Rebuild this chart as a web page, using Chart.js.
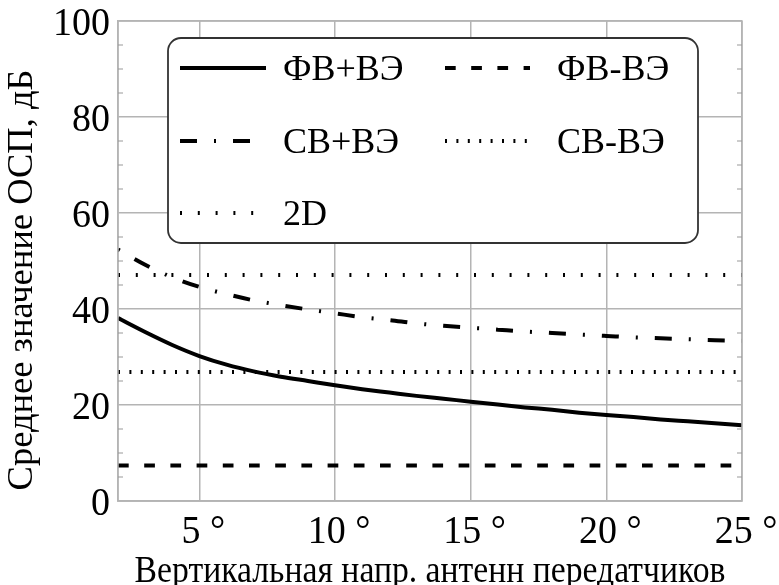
<!DOCTYPE html>
<html><head><meta charset="utf-8">
<script src="https://cdn.jsdelivr.net/npm/chart.js@4/dist/chart.umd.min.js"></script>
<style>html,body{margin:0;padding:0;background:#fff}#wrap{width:779px;height:585px}</style>
</head><body><div id="wrap"><canvas id="c" width="779" height="585"></canvas></div>
<script>
// ---- data ----
const angles      = [2,3,4,5,6,7,8,9,10,11,12,13,14,15,16,17,18,19,20,21,22,23,24,25];
const fvPlusVe    = [38.1,35.2,32.5,30.2,28.4,27.0,25.9,25.0,24.1,23.3,22.6,21.9,21.3,20.7,20.1,19.5,19.0,18.4,17.9,17.5,17.0,16.6,16.2,15.8];
const svPlusVe    = [52.4,49.2,46.6,44.6,43.1,41.8,40.8,39.9,39.1,38.3,37.7,37.0,36.5,36.1,35.7,35.3,35.0,34.7,34.4,34.1,33.9,33.7,33.5,33.4];
const fvMinusVe   = [7.4, 7.4];
const svMinusVe   = [26.9, 26.9];
const twoD        = [47.1, 47.1];
const constX      = [2, 25];
const xTickValues = [5,10,15,20,25];
const yTickValues = [0,20,40,60,80,100];
const seriesNames = ['ФВ+ВЭ','ФВ-ВЭ','СВ+ВЭ','СВ-ВЭ','2D'];
const xTitle = 'Вертикальная напр. антенн передатчиков';
const yTitle = 'Среднее значение ОСП, дБ';

const FONT = '"Liberation Serif", serif';
const GRID = '#b4b4b4';

const pts = (xs, ys) => xs.map((x,i)=>({x:x, y:ys[i]}));

const datasets = [
  {label:seriesNames[0], data:pts(angles,fvPlusVe), borderColor:'#000', borderWidth:4, borderDash:[], cubicInterpolationMode:'monotone'},
  {label:seriesNames[1], data:pts(constX,fvMinusVe), borderColor:'#000', borderWidth:4, borderDash:[10.7,15.5]},
  {label:seriesNames[2], data:pts(angles,svPlusVe), borderColor:'#000', borderWidth:4, borderDash:[17,17,2,17], borderDashOffset:34, cubicInterpolationMode:'monotone'},
  {label:seriesNames[3], data:pts(constX,svMinusVe), borderColor:'#000', borderWidth:4, borderDash:[2,9.4]},
  {label:seriesNames[4], data:pts(constX,twoD), borderColor:'#000', borderWidth:4, borderDash:[2,15.8]}
].map(d=>Object.assign({pointRadius:0, fill:false, borderCapStyle:'butt'}, d));

function txt(ctx, s, x, y, size, align, sy, rot){
  ctx.save();
  ctx.translate(x, y);
  if (rot) ctx.rotate(rot);
  ctx.scale(1, sy);
  ctx.font = size + 'px ' + FONT;
  ctx.fillStyle = '#000';
  ctx.textAlign = align;
  ctx.textBaseline = 'alphabetic';
  ctx.fillText(s, 0, 0);
  ctx.restore();
}

const decor = {
  id:'decor',
  afterDraw(chart){
    const {ctx, chartArea:a, scales:{x, y}} = chart;
    ctx.save();
    // frame
    ctx.strokeStyle = GRID; ctx.lineWidth = 1.5;
    ctx.strokeRect(a.left, a.top, a.right-a.left, a.bottom-a.top);
    // minor ticks
    ctx.strokeStyle = '#999'; ctx.lineWidth = 1.2;
    for (let v = y.min; v <= y.max; v += 5) {
      if (v % 20 === 0) continue;
      const py = y.getPixelForValue(v);
      ctx.beginPath();
      ctx.moveTo(a.left, py); ctx.lineTo(a.left+5, py);
      ctx.moveTo(a.right, py); ctx.lineTo(a.right-5, py);
      ctx.stroke();
    }
    // tick labels
    yTickValues.forEach(v => txt(ctx, String(v), a.left-8, y.getPixelForValue(v)+14, 38, 'right', 1.08));
    xTickValues.forEach(v => txt(ctx, v + ' °', x.getPixelForValue(v)+4, a.bottom+42, 38, 'center', 1.05));
    // axis titles
    txt(ctx, xTitle, (a.left+a.right)/2, 582, 33.7, 'center', 1.12);
    txt(ctx, yTitle, 32, (a.top+a.bottom)/2+19, 36.5, 'center', 1.0, -Math.PI/2);
    // legend box
    const L = a.left+50, T = a.top+17, R = a.right-44, B = a.top+222, r = 13;
    ctx.beginPath();
    ctx.moveTo(L+r,T); ctx.lineTo(R-r,T); ctx.arcTo(R,T,R,T+r,r);
    ctx.lineTo(R,B-r); ctx.arcTo(R,B,R-r,B,r);
    ctx.lineTo(L+r,B); ctx.arcTo(L,B,L,B-r,r);
    ctx.lineTo(L,T+r); ctx.arcTo(L,T,L+r,T,r);
    ctx.closePath();
    ctx.fillStyle = '#fff'; ctx.fill();
    ctx.strokeStyle = '#333'; ctx.lineWidth = 1.8; ctx.stroke();
    const rows = [T+30, T+103, T+175];
    const cols = [{x0:L+12, x1:L+98, tx:L+115}, {x0:L+277, x1:L+362, tx:L+389}];
    const slots = [[0,0],[0,1],[1,0],[1,1],[2,0]];
    chart.data.datasets.forEach((ds,i)=>{
      const [ri,ci] = slots[i]; const c = cols[ci]; const yy = rows[ri];
      ctx.save();
      ctx.strokeStyle = ds.borderColor; ctx.lineWidth = ds.borderWidth; ctx.lineCap='butt';
      ctx.setLineDash(ds.borderDash||[]);
      ctx.beginPath(); ctx.moveTo(c.x0,yy); ctx.lineTo(c.x1,yy); ctx.stroke();
      ctx.restore();
      txt(ctx, ds.label, c.tx, yy+12, 36, 'left', 1.0);
    });
    ctx.restore();
  }
};

new Chart(document.getElementById('c'), {
  type:'line',
  data:{datasets},
  options:{
    responsive:false, animation:false,
    layout:{padding:{top:21, right:37, left:0, bottom:0}},
    plugins:{legend:{display:false}, tooltip:{enabled:false}},
    scales:{
      x:{type:'linear', min:2, max:25,
        afterBuildTicks(s){ s.ticks = xTickValues.map(v=>({value:v})); },
        afterFit(s){ s.height = 84; },
        ticks:{display:false},
        grid:{color:GRID, lineWidth:1.5, drawTicks:false},
        border:{color:GRID, width:1.5}
      },
      y:{min:0, max:100,
        afterBuildTicks(s){ s.ticks = yTickValues.map(v=>({value:v})); },
        afterFit(s){ s.width = 118; },
        ticks:{display:false},
        grid:{color:GRID, lineWidth:1.5, drawTicks:false},
        border:{color:GRID, width:1.5}
      }
    }
  },
  plugins:[decor]
});
</script></body></html>
